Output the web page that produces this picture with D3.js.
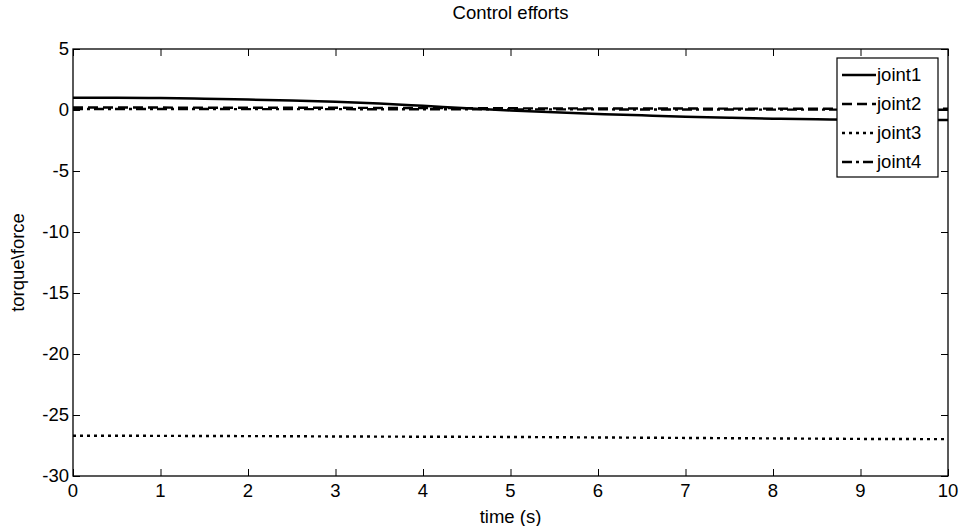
<!DOCTYPE html>
<html>
<head>
<meta charset="utf-8">
<script src="https://cdnjs.cloudflare.com/ajax/libs/d3/7.8.5/d3.min.js"></script>
<style>
    body { margin: 0; background: #fff; }
    svg { display: block; }
    text { font-family: "Liberation Sans", Arial, sans-serif; fill: #000; }
    .tick-label { font-size: 18.5px; }
    .axis-label { font-size: 18.5px; }
    .legend-label { font-size: 18.5px; }
</style>
</head>
<body>
<svg id="chart" width="961" height="526"></svg>
<script>
// Данные графика
const TIME = [0, 0.5, 1, 1.5, 2, 2.5, 3, 3.5, 4, 4.5, 5, 5.5, 6, 6.5, 7, 7.5, 8, 8.5, 9, 9.5, 10];

const JOINT1 = [1.0, 1.0, 0.98, 0.93, 0.86, 0.78, 0.68, 0.53, 0.34, 0.14, -0.04, -0.19, -0.32, -0.44, -0.55, -0.64, -0.71, -0.76, -0.79, -0.81, -0.82];
const JOINT2 = [0.2, 0.2, 0.2, 0.19, 0.19, 0.18, 0.18, 0.17, 0.16, 0.15, 0.14, 0.13, 0.13, 0.12, 0.12, 0.11, 0.11, 0.1, 0.1, 0.1, 0.1];
const JOINT3 = [-26.7, -26.7, -26.71, -26.72, -26.73, -26.74, -26.76, -26.77, -26.78, -26.79, -26.8, -26.82, -26.84, -26.86, -26.88, -26.9, -26.92, -26.94, -26.96, -26.97, -26.98];
const JOINT4 = [0.08, 0.08, 0.08, 0.08, 0.07, 0.07, 0.07, 0.06, 0.06, 0.06, 0.05, 0.05, 0.05, 0.04, 0.04, 0.04, 0.03, 0.03, 0.03, 0.02, 0.02];

const X_TICKS = [0, 1, 2, 3, 4, 5, 6, 7, 8, 9, 10];
const Y_TICKS = [5, 0, -5, -10, -15, -20, -25, -30];

const SERIES_NAMES = ['joint1', 'joint2', 'joint3', 'joint4'];
const SERIES_DASH = {
    'joint1': null,
    'joint2': '10,5',
    'joint3': '3,4',
    'joint4': '10,4,3,4'
};

const series = [
    { name: 'joint1', values: JOINT1 },
    { name: 'joint2', values: JOINT2 },
    { name: 'joint3', values: JOINT3 },
    { name: 'joint4', values: JOINT4 }
];

// Размеры
const margin = { top: 49, right: 13, bottom: 50, left: 73 };
const width = 961 - margin.left - margin.right;
const height = 526 - margin.top - margin.bottom;

const svg = d3.select('#chart');
const g = svg.append('g').attr('transform', `translate(${margin.left},${margin.top})`);

const x = d3.scaleLinear().domain([0, 10]).range([0, width]);
const y = d3.scaleLinear().domain([-30, 5]).range([height, 0]);

// Линии
const line = d3.line()
    .x((d, i) => x(TIME[i]))
    .y(d => y(d))
    .curve(d3.curveMonotoneX);

g.selectAll('.series')
    .data(series)
    .enter()
    .append('path')
    .attr('fill', 'none')
    .attr('stroke', '#000')
    .attr('stroke-width', d => d.name === 'joint1' ? 2.5 : 2.4)
    .attr('stroke-dasharray', d => SERIES_DASH[d.name])
    .attr('d', d => line(d.values));

// Оси (засечки внутрь, с четырёх сторон)
const tickLen = 7;
g.append('g')
    .attr('transform', `translate(0,${height})`)
    .call(d3.axisTop(x).tickValues(X_TICKS).tickSize(tickLen).tickFormat(''))
    .call(a => a.select('.domain').remove());
g.append('g')
    .call(d3.axisBottom(x).tickValues(X_TICKS).tickSize(tickLen).tickFormat(''))
    .call(a => a.select('.domain').remove());
g.append('g')
    .call(d3.axisRight(y).tickValues(Y_TICKS).tickSize(tickLen).tickFormat(''))
    .call(a => a.select('.domain').remove());
g.append('g')
    .attr('transform', `translate(${width},0)`)
    .call(d3.axisLeft(y).tickValues(Y_TICKS).tickSize(tickLen).tickFormat(''))
    .call(a => a.select('.domain').remove());

g.selectAll('.tick line').attr('stroke', '#000');

g.append('rect')
    .attr('width', width)
    .attr('height', height)
    .attr('fill', 'none')
    .attr('stroke', '#000')
    .attr('stroke-width', 1.3);

// Подписи засечек
g.selectAll('.x-label')
    .data(X_TICKS)
    .enter()
    .append('text')
    .attr('class', 'tick-label')
    .attr('x', d => x(d))
    .attr('y', height + 21)
    .attr('text-anchor', 'middle')
    .text(d => d);

g.selectAll('.y-label')
    .data(Y_TICKS)
    .enter()
    .append('text')
    .attr('class', 'tick-label')
    .attr('x', -4)
    .attr('y', d => y(d) + 6)
    .attr('text-anchor', 'end')
    .text(d => d);

// Заголовок и названия осей
svg.append('text')
    .attr('class', 'axis-label')
    .attr('x', margin.left + width / 2)
    .attr('y', 19)
    .attr('text-anchor', 'middle')
    .text('Control efforts');

svg.append('text')
    .attr('class', 'axis-label')
    .attr('x', margin.left + width / 2)
    .attr('y', 523)
    .attr('text-anchor', 'middle')
    .text('time (s)');

svg.append('text')
    .attr('class', 'axis-label')
    .attr('transform', `translate(24,${margin.top + height / 2}) rotate(-90)`)
    .attr('text-anchor', 'middle')
    .text('torque\\force');

// Легенда
const legend = g.append('g').attr('transform', `translate(${width - 111},9)`);
legend.append('rect')
    .attr('width', 101)
    .attr('height', 119)
    .attr('fill', '#fff')
    .attr('stroke', '#000')
    .attr('stroke-width', 1.2);

const items = legend.selectAll('.item')
    .data(SERIES_NAMES)
    .enter()
    .append('g')
    .attr('transform', (d, i) => `translate(0,${17 + i * 29})`);

items.append('line')
    .attr('x1', 5)
    .attr('x2', 39)
    .attr('stroke', '#000')
    .attr('stroke-width', d => d === 'joint1' ? 2.5 : 2.4)
    .attr('stroke-dasharray', d => SERIES_DASH[d]);

items.append('text')
    .attr('class', 'legend-label')
    .attr('x', 40)
    .attr('y', 6)
    .text(d => d);
</script>
</body>
</html>
